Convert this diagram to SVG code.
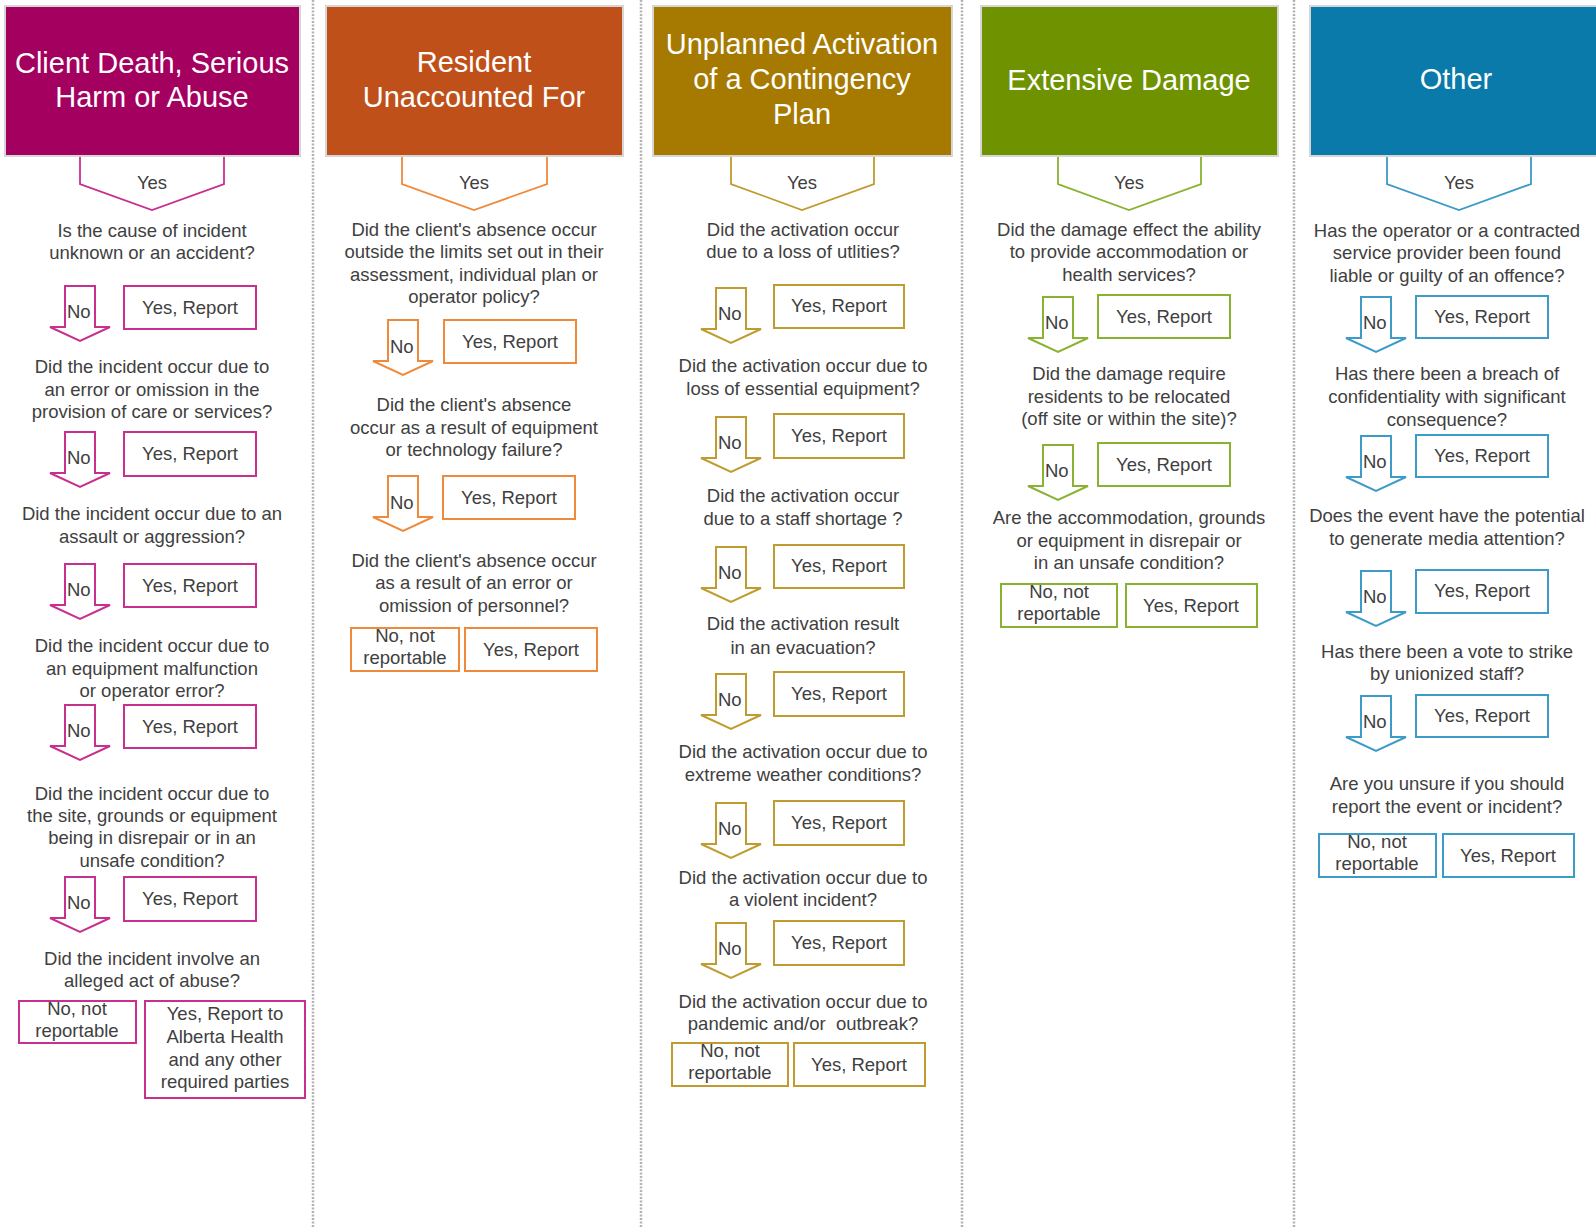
<svg xmlns="http://www.w3.org/2000/svg" width="1596" height="1228" viewBox="0 0 1596 1228">
<style>
text{font-family:"Liberation Sans",Arial,sans-serif}
.hd{font-size:29px;fill:#fff;text-anchor:middle}
.q{font-size:18.5px;fill:#404040;text-anchor:middle}
.t{font-size:18.5px;fill:#404040;text-anchor:middle}
.no{font-size:18.5px;fill:#404040}
.sep{stroke:#b3b3b3;stroke-width:2.5;stroke-dasharray:2 1.5;fill:none}
.hbox{stroke:#d6d6d6;stroke-width:2}
.c1{stroke:#c8308f}.c2{stroke:#ee8a3c}.c3{stroke:#bf9b30}.c4{stroke:#8ab232}.c5{stroke:#3d9bc7}
.bx{fill:#fff;stroke-width:2}
.ar{fill:#fff;stroke-width:2;stroke-linejoin:miter}
.ch{fill:none;stroke-width:1.8}
</style>
<rect width="1596" height="1228" fill="#fff"/>
<g id="separators">
<line class="sep" x1="313" y1="0" x2="313" y2="1228"/>
<line class="sep" x1="641" y1="0" x2="641" y2="1228"/>
<line class="sep" x1="962" y1="0" x2="962" y2="1228"/>
<line class="sep" x1="1294" y1="0" x2="1294" y2="1228"/>
</g>
<g id="connectors">
<polyline class="ch c1" points="80,156 80,184 152,210 224,184 224,156"/>
<polyline class="ch c2" points="402,156 402,184 474,210 547,184 547,156"/>
<polyline class="ch c3" points="731,156 731,184 802,210 874,184 874,156"/>
<polyline class="ch c4" points="1058,156 1058,184 1129,210 1201,184 1201,156"/>
<polyline class="ch c5" points="1387,156 1387,184 1459,210 1531,184 1531,156"/>
<polygon class="ar c1" points="65,286 95,286 95,327 110,327 80,341 50,327 65,327"/>
<polygon class="ar c1" points="65,432 95,432 95,473 110,473 80,487 50,473 65,473"/>
<polygon class="ar c1" points="65,564 95,564 95,605 110,605 80,619 50,605 65,605"/>
<polygon class="ar c1" points="65,705 95,705 95,746 110,746 80,760 50,746 65,746"/>
<polygon class="ar c1" points="65,877 95,877 95,918 110,918 80,932 50,918 65,918"/>
<polygon class="ar c2" points="388,320 418,320 418,361 433,361 403,375 373,361 388,361"/>
<polygon class="ar c2" points="388,476 418,476 418,517 433,517 403,531 373,517 388,517"/>
<polygon class="ar c3" points="716,288 746,288 746,329 761,329 731,343 701,329 716,329"/>
<polygon class="ar c3" points="716,417 746,417 746,458 761,458 731,472 701,458 716,458"/>
<polygon class="ar c3" points="716,547 746,547 746,588 761,588 731,602 701,588 716,588"/>
<polygon class="ar c3" points="716,674 746,674 746,715 761,715 731,729 701,715 716,715"/>
<polygon class="ar c3" points="716,803 746,803 746,844 761,844 731,858 701,844 716,844"/>
<polygon class="ar c3" points="716,923 746,923 746,964 761,964 731,978 701,964 716,964"/>
<polygon class="ar c4" points="1043,297 1073,297 1073,338 1088,338 1058,352 1028,338 1043,338"/>
<polygon class="ar c4" points="1043,445 1073,445 1073,486 1088,486 1058,500 1028,486 1043,486"/>
<polygon class="ar c5" points="1361,297 1391,297 1391,338 1406,338 1376,352 1346,338 1361,338"/>
<polygon class="ar c5" points="1361,436 1391,436 1391,477 1406,477 1376,491 1346,477 1361,477"/>
<polygon class="ar c5" points="1361,571 1391,571 1391,612 1406,612 1376,626 1346,612 1361,612"/>
<polygon class="ar c5" points="1361,696 1391,696 1391,737 1406,737 1376,751 1346,737 1361,737"/>
<text class="t" x="152" y="189">Yes</text>
<text class="t" x="474" y="189">Yes</text>
<text class="t" x="802" y="189">Yes</text>
<text class="t" x="1129" y="189">Yes</text>
<text class="t" x="1459" y="189">Yes</text>
<text class="no" x="67" y="318">No</text>
<text class="no" x="67" y="464">No</text>
<text class="no" x="67" y="596">No</text>
<text class="no" x="67" y="737">No</text>
<text class="no" x="67" y="909">No</text>
<text class="no" x="390" y="353">No</text>
<text class="no" x="390" y="509">No</text>
<text class="no" x="718" y="320">No</text>
<text class="no" x="718" y="449">No</text>
<text class="no" x="718" y="579">No</text>
<text class="no" x="718" y="706">No</text>
<text class="no" x="718" y="835">No</text>
<text class="no" x="718" y="955">No</text>
<text class="no" x="1045" y="329">No</text>
<text class="no" x="1045" y="477">No</text>
<text class="no" x="1363" y="329">No</text>
<text class="no" x="1363" y="468">No</text>
<text class="no" x="1363" y="603">No</text>
<text class="no" x="1363" y="728">No</text>
</g>
<g id="h1"><rect class="hbox" x="5" y="6" width="295" height="150" fill="#a3005f"/><text class="hd" x="152" y="73">Client Death, Serious</text><text class="hd" x="152" y="107">Harm or Abuse</text></g>
<g id="c1q1"><text class="q" x="152" y="237">Is the cause of incident</text><text class="q" x="152" y="259">unknown or an accident?</text></g>
<g id="c1y1"><rect class="bx c1" x="124" y="286" width="132" height="43"/><text class="t" x="190" y="314">Yes, Report</text></g>
<g id="c1q2"><text class="q" x="152" y="373">Did the incident occur due to</text><text class="q" x="152" y="396">an error or omission in the</text><text class="q" x="152" y="418">provision of care or services?</text></g>
<g id="c1y2"><rect class="bx c1" x="124" y="432" width="132" height="44"/><text class="t" x="190" y="460">Yes, Report</text></g>
<g id="c1q3"><text class="q" x="152" y="520">Did the incident occur due to an</text><text class="q" x="152" y="543">assault or aggression?</text></g>
<g id="c1y3"><rect class="bx c1" x="124" y="564" width="132" height="43"/><text class="t" x="190" y="592">Yes, Report</text></g>
<g id="c1q4"><text class="q" x="152" y="652">Did the incident occur due to</text><text class="q" x="152" y="675">an equipment malfunction</text><text class="q" x="152" y="697">or operator error?</text></g>
<g id="c1y4"><rect class="bx c1" x="124" y="705" width="132" height="43"/><text class="t" x="190" y="733">Yes, Report</text></g>
<g id="c1q5"><text class="q" x="152" y="800">Did the incident occur due to</text><text class="q" x="152" y="822">the site, grounds or equipment</text><text class="q" x="152" y="844">being in disrepair or in an</text><text class="q" x="152" y="867">unsafe condition?</text></g>
<g id="c1y5"><rect class="bx c1" x="124" y="877" width="132" height="44"/><text class="t" x="190" y="905">Yes, Report</text></g>
<g id="c1q6"><text class="q" x="152" y="965">Did the incident involve an</text><text class="q" x="152" y="987">alleged act of abuse?</text></g>
<g id="c1n"><rect class="bx c1" x="19" y="1001" width="117" height="42"/><text class="t" x="77" y="1015">No, not</text><text class="t" x="77" y="1037">reportable</text></g>
<g id="c1y6"><rect class="bx c1" x="145" y="1001" width="160" height="97"/><text class="t" x="225" y="1020">Yes, Report to</text><text class="t" x="225" y="1043">Alberta Health</text><text class="t" x="225" y="1066">and any other</text><text class="t" x="225" y="1088">required parties</text></g>
<g id="h2"><rect class="hbox" x="326" y="6" width="297" height="150" fill="#c0501a"/><text class="hd" x="474" y="72">Resident</text><text class="hd" x="474" y="107">Unaccounted For</text></g>
<g id="c2q1"><text class="q" x="474" y="236">Did the client's absence occur</text><text class="q" x="474" y="258">outside the limits set out in their</text><text class="q" x="474" y="281">assessment, individual plan or</text><text class="q" x="474" y="303">operator policy?</text></g>
<g id="c2y1"><rect class="bx c2" x="444" y="320" width="132" height="43"/><text class="t" x="510" y="348">Yes, Report</text></g>
<g id="c2q2"><text class="q" x="474" y="411">Did the client's absence</text><text class="q" x="474" y="434">occur as a result of equipment</text><text class="q" x="474" y="456">or technology failure?</text></g>
<g id="c2y2"><rect class="bx c2" x="443" y="476" width="132" height="43"/><text class="t" x="509" y="504">Yes, Report</text></g>
<g id="c2q3"><text class="q" x="474" y="567">Did the client's absence occur</text><text class="q" x="474" y="589">as a result of an error or</text><text class="q" x="474" y="612">omission of personnel?</text></g>
<g id="c2n"><rect class="bx c2" x="351" y="628" width="108" height="43"/><text class="t" x="405" y="642">No, not</text><text class="t" x="405" y="664">reportable</text></g>
<g id="c2y3"><rect class="bx c2" x="465" y="628" width="132" height="43"/><text class="t" x="531" y="656">Yes, Report</text></g>
<g id="h3"><rect class="hbox" x="653" y="6" width="299" height="150" fill="#a67a00"/><text class="hd" x="802" y="54">Unplanned Activation</text><text class="hd" x="802" y="89">of a Contingency</text><text class="hd" x="802" y="124">Plan</text></g>
<g id="c3q1"><text class="q" x="803" y="236">Did the activation occur</text><text class="q" x="803" y="258">due to a loss of utlities?</text></g>
<g id="c3y1"><rect class="bx c3" x="774" y="285" width="130" height="43"/><text class="t" x="839" y="312">Yes, Report</text></g>
<g id="c3q2"><text class="q" x="803" y="372">Did the activation occur due to</text><text class="q" x="803" y="395">loss of essential equipment?</text></g>
<g id="c3y2"><rect class="bx c3" x="774" y="414" width="130" height="44"/><text class="t" x="839" y="442">Yes, Report</text></g>
<g id="c3q3"><text class="q" x="803" y="502">Did the activation occur</text><text class="q" x="803" y="525">due to a staff shortage ?</text></g>
<g id="c3y3"><rect class="bx c3" x="774" y="545" width="130" height="43"/><text class="t" x="839" y="572">Yes, Report</text></g>
<g id="c3q4"><text class="q" x="803" y="630">Did the activation result</text><text class="q" x="803" y="654">in an evacuation?</text></g>
<g id="c3y4"><rect class="bx c3" x="774" y="672" width="130" height="44"/><text class="t" x="839" y="700">Yes, Report</text></g>
<g id="c3q5"><text class="q" x="803" y="758">Did the activation occur due to</text><text class="q" x="803" y="781">extreme weather conditions?</text></g>
<g id="c3y5"><rect class="bx c3" x="774" y="801" width="130" height="44"/><text class="t" x="839" y="829">Yes, Report</text></g>
<g id="c3q6"><text class="q" x="803" y="884">Did the activation occur due to</text><text class="q" x="803" y="906">a violent incident?</text></g>
<g id="c3y6"><rect class="bx c3" x="774" y="921" width="130" height="44"/><text class="t" x="839" y="949">Yes, Report</text></g>
<g id="c3q7"><text class="q" x="803" y="1008">Did the activation occur due to</text><text class="q" x="803" y="1030">pandemic and/or&#160; outbreak?</text></g>
<g id="c3n"><rect class="bx c3" x="672" y="1043" width="116" height="43"/><text class="t" x="730" y="1057">No, not</text><text class="t" x="730" y="1079">reportable</text></g>
<g id="c3y7"><rect class="bx c3" x="794" y="1043" width="131" height="43"/><text class="t" x="859" y="1071">Yes, Report</text></g>
<g id="h4"><rect class="hbox" x="981" y="6" width="297" height="150" fill="#6e9200"/><text class="hd" x="1129" y="90">Extensive Damage</text></g>
<g id="c4q1"><text class="q" x="1129" y="236">Did the damage effect the ability</text><text class="q" x="1129" y="258">to provide accommodation or</text><text class="q" x="1129" y="281">health services?</text></g>
<g id="c4y1"><rect class="bx c4" x="1098" y="295" width="132" height="43"/><text class="t" x="1164" y="323">Yes, Report</text></g>
<g id="c4q2"><text class="q" x="1129" y="380">Did the damage require</text><text class="q" x="1129" y="403">residents to be relocated</text><text class="q" x="1129" y="425">(off site or within the site)?</text></g>
<g id="c4y2"><rect class="bx c4" x="1098" y="443" width="132" height="43"/><text class="t" x="1164" y="471">Yes, Report</text></g>
<g id="c4q3"><text class="q" x="1129" y="524">Are the accommodation, grounds</text><text class="q" x="1129" y="547">or equipment in disrepair or</text><text class="q" x="1129" y="569">in an unsafe condition?</text></g>
<g id="c4n"><rect class="bx c4" x="1001" y="584" width="116" height="43"/><text class="t" x="1059" y="598">No, not</text><text class="t" x="1059" y="620">reportable</text></g>
<g id="c4y3"><rect class="bx c4" x="1126" y="584" width="131" height="43"/><text class="t" x="1191" y="612">Yes, Report</text></g>
<g id="h5"><rect class="hbox" x="1310" y="6" width="296" height="150" fill="#0a7aaa"/><text class="hd" x="1456" y="89">Other</text></g>
<g id="c5q1"><text class="q" x="1447" y="237">Has the operator or a contracted</text><text class="q" x="1447" y="259">service provider been found</text><text class="q" x="1447" y="282">liable or guilty of an offence?</text></g>
<g id="c5y1"><rect class="bx c5" x="1416" y="296" width="132" height="42"/><text class="t" x="1482" y="323">Yes, Report</text></g>
<g id="c5q2"><text class="q" x="1447" y="380">Has there been a breach of</text><text class="q" x="1447" y="403">confidentiality with significant</text><text class="q" x="1447" y="426">consequence?</text></g>
<g id="c5y2"><rect class="bx c5" x="1416" y="435" width="132" height="42"/><text class="t" x="1482" y="462">Yes, Report</text></g>
<g id="c5q3"><text class="q" x="1447" y="522">Does the event have the potential</text><text class="q" x="1447" y="545">to generate media attention?</text></g>
<g id="c5y3"><rect class="bx c5" x="1416" y="570" width="132" height="43"/><text class="t" x="1482" y="597">Yes, Report</text></g>
<g id="c5q4"><text class="q" x="1447" y="658">Has there been a vote to strike</text><text class="q" x="1447" y="680">by unionized staff?</text></g>
<g id="c5y4"><rect class="bx c5" x="1416" y="695" width="132" height="42"/><text class="t" x="1482" y="722">Yes, Report</text></g>
<g id="c5q5"><text class="q" x="1447" y="790">Are you unsure if you should</text><text class="q" x="1447" y="813">report the event or incident?</text></g>
<g id="c5n"><rect class="bx c5" x="1319" y="834" width="117" height="43"/><text class="t" x="1377" y="848">No, not</text><text class="t" x="1377" y="870">reportable</text></g>
<g id="c5y5"><rect class="bx c5" x="1443" y="834" width="131" height="43"/><text class="t" x="1508" y="862">Yes, Report</text></g>
</svg>
